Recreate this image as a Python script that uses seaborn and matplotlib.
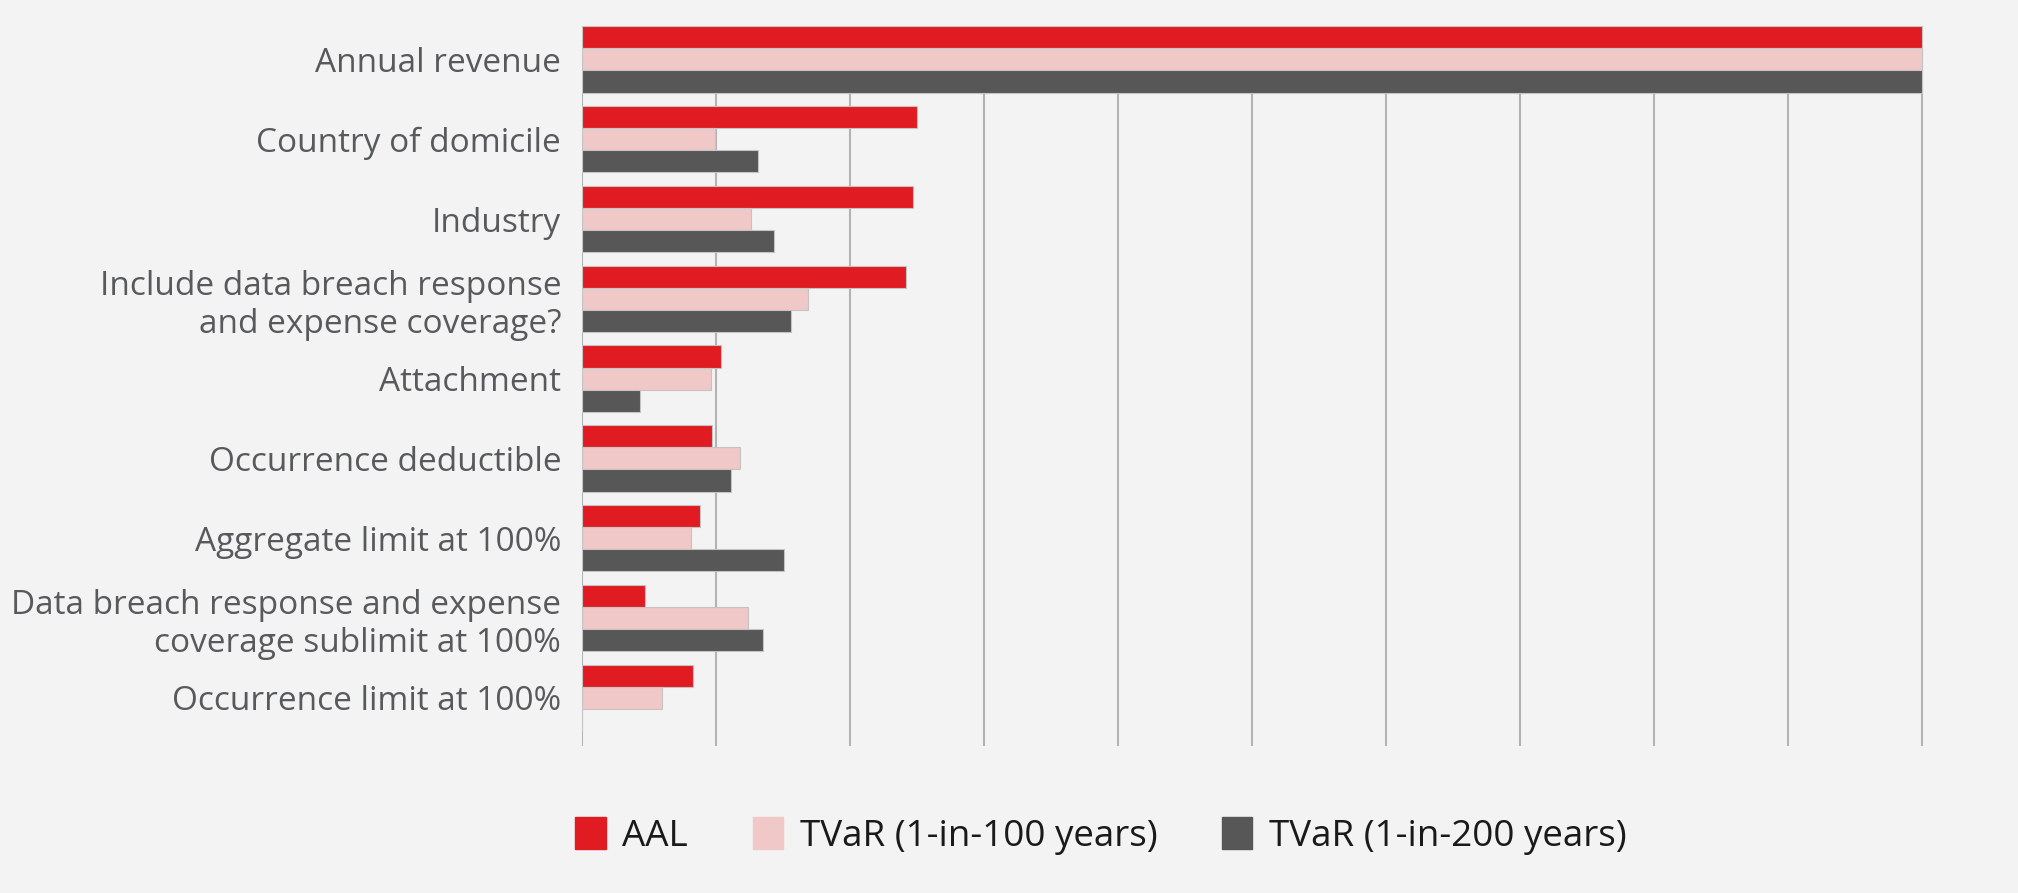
import matplotlib.pyplot as plt
import seaborn as sns
import pandas as pd

# Categories and series values (1 unit = 1 gridline)
factors = ['Annual revenue', 'Country of domicile', 'Industry',
           'Include data breach response\nand expense coverage?',
           'Attachment', 'Occurrence deductible', 'Aggregate limit at 100%',
           'Data breach response and expense\ncoverage sublimit at 100%',
           'Occurrence limit at 100%']
series = ['AAL', 'TVaR (1-in-100 years)', 'TVaR (1-in-200 years)']
aal = [10.0, 2.50, 2.47, 2.42, 1.04, 0.97, 0.88, 0.47, 0.83]
tvar100 = [10.0, 0.99, 1.26, 1.69, 0.96, 1.18, 0.81, 1.24, 0.60]
tvar200 = [10.0, 1.31, 1.43, 1.56, 0.43, 1.11, 1.51, 1.35, 0.0]
colors = ['#e01b22', '#f0c8c8', '#575757']

rows = []
for name, vals in zip(series, [aal, tvar100, tvar200]):
    for f, v in zip(factors, vals):
        rows.append({'factor': f, 'series': name, 'value': v})
df = pd.DataFrame(rows)

sns.set_style('white')
plt.rcParams['font.family'] = ['Open Sans', 'DejaVu Sans']

fig = plt.figure(figsize=(20.18, 8.93), dpi=100, facecolor='#f2f3f2')
ax = fig.add_axes([0.2884, 0.165, 0.666, 0.806])
ax.set_facecolor('#f2f3f2')

sns.barplot(ax=ax, data=df, y='factor', x='value', hue='series', orient='h',
            order=factors, hue_order=series, palette=colors, width=0.83,
            saturation=1, edgecolor='#c4c4c4', linewidth=0.8, errorbar=None,
            legend=False)

# Set axes ticks and grid
ax.set_xlim(0, 10.03)
ax.set_ylim(8.6, -0.42)
ax.set_xticks(range(0, 11))
ax.xaxis.grid(True, color='#b3b3b3', linewidth=1.5)
ax.set_axisbelow(True)
ax.tick_params(axis='x', length=0, labelbottom=False)
ax.tick_params(axis='y', length=0, labelsize=24, labelcolor='#58595b', pad=15)
for s in ax.spines.values():
    s.set_visible(False)
ax.set_xlabel('')
ax.set_ylabel('')

# Legend at the bottom
handles = [plt.Rectangle((0, 0), 1, 1, color=c) for c in colors]
fig.legend(handles, series, loc='center', bbox_to_anchor=(0.5455, 0.064), ncol=3,
           frameon=False, fontsize=26.5, handlelength=0.83, handleheight=0.97,
           handletextpad=0.45, columnspacing=1.75, labelcolor='#1a1a1a')

fig.savefig('out.png', dpi=100, facecolor=fig.get_facecolor())
